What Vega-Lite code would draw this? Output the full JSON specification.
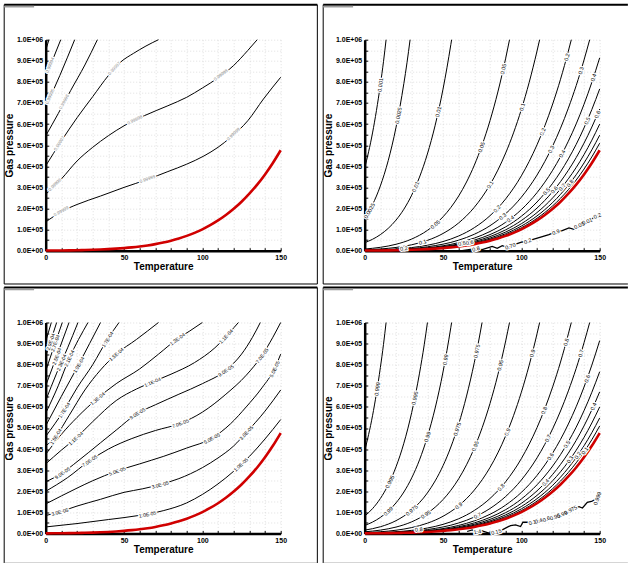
{
"$schema":"https://vega.github.io/schema/vega-lite/v6.json",
"background":"white",
"padding":{"left":2.7,"top":2.7,"right":0,"bottom":0},
"config":{
 "view":{"stroke":null},
 "font":"Liberation Sans",
 "axis":{"domainColor":"black","domainWidth":2.5,"tickColor":"black","tickWidth":1,"labelColor":"black","labelFont":"Liberation Sans","labelFontWeight":"bold","labelFontSize":7,"titleFont":"Liberation Sans","titleFontWeight":"bold","titleFontSize":10,"titleColor":"black","gridColor":"#d4d4d4","gridDash":[1,2],"gridWidth":0.7,"labelOverlap":false,"labelFlush":false,"grid":true,"tickSize":-3,"labelPadding":6},
 "axisX":{"tickCount":15,"titlePadding":1},
 "axisY":{"tickCount":20,"titlePadding":2}
},
"datasets":{
 "sat":[{"T":0,"P":611},{"T":5,"P":872},{"T":10,"P":1228},{"T":15,"P":1706},{"T":20,"P":2339},{"T":25,"P":3169},{"T":30,"P":4247},{"T":35,"P":5629},{"T":40,"P":7384},{"T":45,"P":9595},{"T":50,"P":12352},{"T":55,"P":15763},{"T":60,"P":19946},{"T":65,"P":25042},{"T":70,"P":31201},{"T":75,"P":38595},{"T":80,"P":47414},{"T":85,"P":57867},{"T":90,"P":70182},{"T":95,"P":84609},{"T":100,"P":101420},{"T":105,"P":120900},{"T":110,"P":143380},{"T":115,"P":169180},{"T":120,"P":198670},{"T":125,"P":232190},{"T":130,"P":270280},{"T":135,"P":313000},{"T":140,"P":361540},{"T":145,"P":415680},{"T":150,"P":476160}],
 "p1":[
  {"k":"a","T":0,"P":136000},{"k":"a","T":10,"P":185000},{"k":"a","T":20,"P":219000},{"k":"a","T":35,"P":259000},{"k":"a","T":50,"P":300000},{"k":"a","T":65,"P":338000},{"k":"a","T":78,"P":375000},{"k":"a","T":90,"P":410000},{"k":"a","T":101,"P":449000},{"k":"a","T":110,"P":490000},{"k":"a","T":118,"P":537000},{"k":"a","T":129,"P":616000},{"k":"a","T":139,"P":719000},{"k":"a","T":150,"P":822000},
  {"k":"b","T":0,"P":267000},{"k":"b","T":10,"P":340000},{"k":"b","T":20,"P":425000},{"k":"b","T":30,"P":490000},{"k":"b","T":40,"P":545000},{"k":"b","T":50,"P":592000},{"k":"b","T":63,"P":640000},{"k":"b","T":78,"P":687000},{"k":"b","T":90,"P":727000},{"k":"b","T":100,"P":771000},{"k":"b","T":110,"P":819000},{"k":"b","T":120,"P":878000},{"k":"b","T":129,"P":949000},{"k":"b","T":135,"P":1000000},
  {"k":"c","T":0,"P":402000},{"k":"c","T":10,"P":520000},{"k":"c","T":20,"P":630000},{"k":"c","T":30,"P":730000},{"k":"c","T":40,"P":830000},{"k":"c","T":48,"P":895000},{"k":"c","T":56,"P":935000},{"k":"c","T":64,"P":970000},{"k":"c","T":72,"P":1000000},
  {"k":"d","T":0,"P":544000},{"k":"d","T":8,"P":650000},{"k":"d","T":16,"P":760000},{"k":"d","T":25,"P":880000},{"k":"d","T":33,"P":1000000},
  {"k":"e","T":0,"P":680000},{"k":"e","T":9,"P":830000},{"k":"e","T":18.5,"P":1000000},
  {"k":"f","T":0,"P":822000},{"k":"f","T":9.6,"P":1000000},
  {"k":"g","T":0,"P":950000},{"k":"g","T":2.1,"P":1000000}
 ],
 "p3":[
  {"k":"c01","T":0,"P":31000},{"k":"c01","T":20,"P":47000},{"k":"c01","T":40,"P":66000},{"k":"c01","T":60,"P":86000},{"k":"c01","T":75,"P":108000},{"k":"c01","T":90,"P":145000},{"k":"c01","T":100,"P":185000},{"k":"c01","T":110,"P":235000},{"k":"c01","T":120,"P":295000},{"k":"c01","T":130,"P":365000},{"k":"c01","T":140,"P":448000},{"k":"c01","T":150,"P":540000},
  {"k":"c03","T":0,"P":85000},{"k":"c03","T":10,"P":105000},{"k":"c03","T":20,"P":130000},{"k":"c03","T":35,"P":162000},{"k":"c03","T":50,"P":195000},{"k":"c03","T":62,"P":212000},{"k":"c03","T":73,"P":232000},{"k":"c03","T":85,"P":260000},{"k":"c03","T":100,"P":312000},{"k":"c03","T":110,"P":358000},{"k":"c03","T":120,"P":415000},{"k":"c03","T":128,"P":478000},{"k":"c03","T":140,"P":580000},{"k":"c03","T":150,"P":680000},
  {"k":"c05","T":0,"P":140000},{"k":"c05","T":10,"P":178000},{"k":"c05","T":20,"P":215000},{"k":"c05","T":30,"P":250000},{"k":"c05","T":45,"P":295000},{"k":"c05","T":60,"P":330000},{"k":"c05","T":75,"P":365000},{"k":"c05","T":90,"P":405000},{"k":"c05","T":106,"P":451000},{"k":"c05","T":118,"P":520000},{"k":"c05","T":128,"P":600000},{"k":"c05","T":138,"P":690000},{"k":"c05","T":146,"P":780000},{"k":"c05","T":150,"P":850000},
  {"k":"c07","T":0,"P":200000},{"k":"c07","T":14,"P":265000},{"k":"c07","T":28,"P":345000},{"k":"c07","T":40,"P":400000},{"k":"c07","T":55,"P":450000},{"k":"c07","T":70,"P":488000},{"k":"c07","T":86,"P":522000},{"k":"c07","T":100,"P":575000},{"k":"c07","T":115,"P":660000},{"k":"c07","T":128,"P":750000},{"k":"c07","T":138,"P":843000},{"k":"c07","T":145,"P":930000},{"k":"c07","T":150,"P":1000000},
  {"k":"c09","T":0,"P":245000},{"k":"c09","T":10.6,"P":287000},{"k":"c09","T":20,"P":340000},{"k":"c09","T":35,"P":430000},{"k":"c09","T":45,"P":490000},{"k":"c09","T":58.5,"P":569000},{"k":"c09","T":70,"P":610000},{"k":"c09","T":85,"P":660000},{"k":"c09","T":100,"P":710000},{"k":"c09","T":114.9,"P":773000},{"k":"c09","T":125,"P":850000},{"k":"c09","T":132,"P":930000},{"k":"c09","T":137,"P":1000000},
  {"k":"c11","T":0,"P":330000},{"k":"c11","T":10,"P":395000},{"k":"c11","T":19.1,"P":451000},{"k":"c11","T":30,"P":530000},{"k":"c11","T":45,"P":630000},{"k":"c11","T":58,"P":685000},{"k":"c11","T":68.1,"P":718000},{"k":"c11","T":80,"P":755000},{"k":"c11","T":95,"P":810000},{"k":"c11","T":108,"P":880000},{"k":"c11","T":120.2,"P":976000},{"k":"c11","T":123,"P":1000000},
  {"k":"c13","T":0,"P":375000},{"k":"c13","T":10,"P":470000},{"k":"c13","T":20,"P":550000},{"k":"c13","T":33,"P":640000},{"k":"c13","T":45,"P":710000},{"k":"c13","T":60,"P":780000},{"k":"c13","T":72,"P":850000},{"k":"c13","T":84,"P":922000},{"k":"c13","T":92,"P":960000},{"k":"c13","T":100,"P":1000000},
  {"k":"c15","T":0,"P":415000},{"k":"c15","T":6.4,"P":460000},{"k":"c15","T":15,"P":560000},{"k":"c15","T":25,"P":680000},{"k":"c15","T":35,"P":775000},{"k":"c15","T":45,"P":850000},{"k":"c15","T":58,"P":920000},{"k":"c15","T":72,"P":1000000},
  {"k":"c17","T":0,"P":460000},{"k":"c17","T":11.7,"P":585000},{"k":"c17","T":20,"P":690000},{"k":"c17","T":30,"P":800000},{"k":"c17","T":39.4,"P":920000},{"k":"c17","T":46.8,"P":1000000},
  {"k":"c19","T":0,"P":510000},{"k":"c19","T":10,"P":650000},{"k":"c19","T":21,"P":800000},{"k":"c19","T":28,"P":900000},{"k":"c19","T":35,"P":1000000},
  {"k":"c21","T":0,"P":570000},{"k":"c21","T":8,"P":700000},{"k":"c21","T":15,"P":830000},{"k":"c21","T":21,"P":920000},{"k":"c21","T":27,"P":1000000},
  {"k":"c23","T":0,"P":630000},{"k":"c23","T":7,"P":760000},{"k":"c23","T":14,"P":880000},{"k":"c23","T":20.6,"P":1000000},
  {"k":"c25","T":0,"P":700000},{"k":"c25","T":7,"P":840000},{"k":"c25","T":14.9,"P":1000000},
  {"k":"c27","T":0,"P":770000},{"k":"c27","T":5,"P":880000},{"k":"c27","T":10.6,"P":1000000},
  {"k":"c29","T":0,"P":840000},{"k":"c29","T":7,"P":1000000},
  {"k":"c31","T":0,"P":910000},{"k":"c31","T":3.6,"P":1000000}
 ],
 "vap":[
  {"k":"r640","T":0,"P":391000},{"k":"r640","T":5,"P":558000},{"k":"r640","T":10,"P":786000},{"k":"r640","T":12,"P":896000},{"k":"r640","T":13.66,"P":1000000},
  {"k":"r250","T":0,"P":152750},{"k":"r250","T":5,"P":218000},{"k":"r250","T":10,"P":307000},{"k":"r250","T":15,"P":426500},{"k":"r250","T":20,"P":584750},{"k":"r250","T":25,"P":792250},{"k":"r250","T":27,"P":890700},{"k":"r250","T":28.98,"P":1000000},
  {"k":"r135","T":0,"P":82500},{"k":"r135","T":5,"P":117700},{"k":"r135","T":10,"P":165800},{"k":"r135","T":15,"P":230300},{"k":"r135","T":20,"P":315800},{"k":"r135","T":25,"P":427800},{"k":"r135","T":30,"P":573300},{"k":"r135","T":35,"P":759900},{"k":"r135","T":38,"P":894300},{"k":"r135","T":40.06,"P":1000000},
  {"k":"r62","T":0,"P":37880},{"k":"r62","T":5,"P":54060},{"k":"r62","T":10,"P":76140},{"k":"r62","T":15,"P":105770},{"k":"r62","T":20,"P":145020},{"k":"r62","T":25,"P":196480},{"k":"r62","T":30,"P":263310},{"k":"r62","T":35,"P":349000},{"k":"r62","T":40,"P":457810},{"k":"r62","T":45,"P":594890},{"k":"r62","T":50,"P":765820},{"k":"r62","T":55,"P":977310},{"k":"r62","T":55.49,"P":1000000},
  {"k":"r26","T":0,"P":15886},{"k":"r26","T":10,"P":31928},{"k":"r26","T":20,"P":60814},{"k":"r26","T":30,"P":110422},{"k":"r26","T":40,"P":191984},{"k":"r26","T":45,"P":249470},{"k":"r26","T":50,"P":321152},{"k":"r26","T":55,"P":409838},{"k":"r26","T":60,"P":518596},{"k":"r26","T":65,"P":651092},{"k":"r26","T":70,"P":811226},{"k":"r26","T":72.5,"P":902200},{"k":"r26","T":74.92,"P":1000000},
  {"k":"r13","T":0,"P":7943},{"k":"r13","T":10,"P":15964},{"k":"r13","T":20,"P":30407},{"k":"r13","T":30,"P":55211},{"k":"r13","T":40,"P":95992},{"k":"r13","T":45,"P":124735},{"k":"r13","T":50,"P":160576},{"k":"r13","T":55,"P":204919},{"k":"r13","T":60,"P":259298},{"k":"r13","T":65,"P":325546},{"k":"r13","T":70,"P":405613},{"k":"r13","T":75,"P":501735},{"k":"r13","T":80,"P":616382},{"k":"r13","T":85,"P":752271},{"k":"r13","T":90,"P":912366},{"k":"r13","T":92.45,"P":1000000},
  {"k":"r6.6","T":0,"P":4033},{"k":"r6.6","T":10,"P":8105},{"k":"r6.6","T":20,"P":15437},{"k":"r6.6","T":30,"P":28030},{"k":"r6.6","T":40,"P":48734},{"k":"r6.6","T":50,"P":81523},{"k":"r6.6","T":60,"P":131644},{"k":"r6.6","T":70,"P":205927},{"k":"r6.6","T":80,"P":312932},{"k":"r6.6","T":85,"P":381922},{"k":"r6.6","T":90,"P":463201},{"k":"r6.6","T":95,"P":558419},{"k":"r6.6","T":100,"P":669372},{"k":"r6.6","T":105,"P":797940},{"k":"r6.6","T":110,"P":946308},{"k":"r6.6","T":111.67,"P":1000000},
  {"k":"r3.5","T":0,"P":2139},{"k":"r3.5","T":20,"P":8187},{"k":"r3.5","T":30,"P":14865},{"k":"r3.5","T":40,"P":25844},{"k":"r3.5","T":50,"P":43232},{"k":"r3.5","T":60,"P":69811},{"k":"r3.5","T":70,"P":109204},{"k":"r3.5","T":80,"P":165949},{"k":"r3.5","T":90,"P":245637},{"k":"r3.5","T":100,"P":354970},{"k":"r3.5","T":110,"P":501830},{"k":"r3.5","T":115,"P":592130},{"k":"r3.5","T":120,"P":695345},{"k":"r3.5","T":125,"P":812665},{"k":"r3.5","T":130,"P":945980},{"k":"r3.5","T":131.89,"P":1000000},
  {"k":"r2.5","T":0,"P":1528},{"k":"r2.5","T":20,"P":5848},{"k":"r2.5","T":40,"P":18460},{"k":"r2.5","T":60,"P":49865},{"k":"r2.5","T":70,"P":78003},{"k":"r2.5","T":80,"P":118535},{"k":"r2.5","T":90,"P":175455},{"k":"r2.5","T":100,"P":253550},{"k":"r2.5","T":110,"P":358450},{"k":"r2.5","T":120,"P":496675},{"k":"r2.5","T":125,"P":580475},{"k":"r2.5","T":130,"P":675700},{"k":"r2.5","T":135,"P":782500},{"k":"r2.5","T":140,"P":903850},{"k":"r2.5","T":143.62,"P":1000000},
  {"k":"r1.92","T":0,"P":1173},{"k":"r1.92","T":40,"P":14177},{"k":"r1.92","T":60,"P":38296},{"k":"r1.92","T":70,"P":59906},{"k":"r1.92","T":80,"P":91035},{"k":"r1.92","T":90,"P":134749},{"k":"r1.92","T":100,"P":194726},{"k":"r1.92","T":110,"P":275290},{"k":"r1.92","T":120,"P":381446},{"k":"r1.92","T":125,"P":445805},{"k":"r1.92","T":130,"P":518938},{"k":"r1.92","T":135,"P":600960},{"k":"r1.92","T":140,"P":694157},{"k":"r1.92","T":145,"P":798106},{"k":"r1.92","T":150,"P":914227},
  {"k":"r1.61","T":0,"P":984},{"k":"r1.61","T":40,"P":11888},{"k":"r1.61","T":60,"P":32113},{"k":"r1.61","T":70,"P":50234},{"k":"r1.61","T":80,"P":76337},{"k":"r1.61","T":90,"P":112993},{"k":"r1.61","T":100,"P":163286},{"k":"r1.61","T":110,"P":230842},{"k":"r1.61","T":120,"P":319859},{"k":"r1.61","T":125,"P":373826},{"k":"r1.61","T":130,"P":435151},{"k":"r1.61","T":135,"P":503930},{"k":"r1.61","T":140,"P":582079},{"k":"r1.61","T":145,"P":669245},{"k":"r1.61","T":150,"P":766618},
  {"k":"r1.41","T":0,"P":862},{"k":"r1.41","T":40,"P":10411},{"k":"r1.41","T":60,"P":28124},{"k":"r1.41","T":70,"P":43993},{"k":"r1.41","T":80,"P":66854},{"k":"r1.41","T":90,"P":98957},{"k":"r1.41","T":100,"P":143002},{"k":"r1.41","T":110,"P":202166},{"k":"r1.41","T":120,"P":280125},{"k":"r1.41","T":125,"P":327388},{"k":"r1.41","T":130,"P":381095},{"k":"r1.41","T":135,"P":441330},{"k":"r1.41","T":140,"P":509771},{"k":"r1.41","T":145,"P":586109},{"k":"r1.41","T":150,"P":671386},
  {"k":"r1.26","T":0,"P":770},{"k":"r1.26","T":40,"P":9304},{"k":"r1.26","T":60,"P":25132},{"k":"r1.26","T":70,"P":39313},{"k":"r1.26","T":80,"P":59742},{"k":"r1.26","T":90,"P":88429},{"k":"r1.26","T":100,"P":127789},{"k":"r1.26","T":110,"P":180659},{"k":"r1.26","T":120,"P":250324},{"k":"r1.26","T":125,"P":292559},{"k":"r1.26","T":130,"P":340553},{"k":"r1.26","T":135,"P":394380},{"k":"r1.26","T":140,"P":455540},{"k":"r1.26","T":145,"P":523757},{"k":"r1.26","T":150,"P":599962},
  {"k":"r1.15","T":0,"P":703},{"k":"r1.15","T":40,"P":8492},{"k":"r1.15","T":60,"P":22938},{"k":"r1.15","T":70,"P":35881},{"k":"r1.15","T":80,"P":54526},{"k":"r1.15","T":90,"P":80709},{"k":"r1.15","T":100,"P":116633},{"k":"r1.15","T":110,"P":164887},{"k":"r1.15","T":120,"P":228471},{"k":"r1.15","T":125,"P":267019},{"k":"r1.15","T":130,"P":310822},{"k":"r1.15","T":135,"P":359950},{"k":"r1.15","T":140,"P":415771},{"k":"r1.15","T":145,"P":478032},{"k":"r1.15","T":150,"P":547584},
  {"k":"r1.07","T":0,"P":654},{"k":"r1.07","T":40,"P":7901},{"k":"r1.07","T":60,"P":21342},{"k":"r1.07","T":70,"P":33385},{"k":"r1.07","T":80,"P":50733},{"k":"r1.07","T":90,"P":75095},{"k":"r1.07","T":100,"P":108519},{"k":"r1.07","T":110,"P":153417},{"k":"r1.07","T":120,"P":212577},{"k":"r1.07","T":125,"P":248443},{"k":"r1.07","T":130,"P":289200},{"k":"r1.07","T":135,"P":334910},{"k":"r1.07","T":140,"P":386848},{"k":"r1.07","T":145,"P":444778},{"k":"r1.07","T":150,"P":509491}
 ],
 "j2":[{"T":62.2,"P":0},{"T":70.7,"P":9500},{"T":75,"P":4750},{"T":81.4,"P":20600},{"T":84.6,"P":11100},{"T":87.8,"P":23800},{"T":91,"P":15800},{"T":96.3,"P":31700},{"T":100.6,"P":41200},{"T":104.8,"P":47500},{"T":109.1,"P":57100},{"T":113.4,"P":66600},{"T":117.6,"P":76100},{"T":121.9,"P":88700},{"T":126.1,"P":95100},{"T":130.4,"P":107800},{"T":133.6,"P":101400},{"T":136.8,"P":120400},{"T":141.1,"P":136300},{"T":145.3,"P":152100},{"T":149.6,"P":171200}],
 "j4":[{"T":65.4,"P":9400},{"T":68.6,"P":17200},{"T":70.7,"P":6300},{"T":75,"P":12500},{"T":79.3,"P":1600},{"T":83.5,"P":6300},{"T":87.8,"P":17200},{"T":93.1,"P":37600},{"T":96.3,"P":40800},{"T":99.5,"P":32900},{"T":101,"P":53300},{"T":107,"P":53300},{"T":113.4,"P":64300},{"T":119.8,"P":75200},{"T":126.1,"P":90900},{"T":131.5,"P":111300},{"T":136.8,"P":127000},{"T":139,"P":120700},{"T":142.1,"P":147300},{"T":145.3,"P":153600},{"T":148.5,"P":166100}],
 "lab1":[
  {"T":10,"P":185000,"t":"0.99999","a":-29},{"T":65,"P":338000,"t":"0.99999","a":-19},{"T":120,"P":551000,"t":"0.99999","a":-44},
  {"T":6,"P":311000,"t":"0.99998","a":-44},{"T":57,"P":618000,"t":"0.99998","a":-26},{"T":112,"P":831000,"t":"0.99998","a":-37},
  {"T":9,"P":508000,"t":"0.99997","a":-58},{"T":44,"P":863000,"t":"0.99997","a":-47},
  {"T":12,"P":705000,"t":"0.99996","a":-62},{"T":3,"P":730000,"t":"0.99995","a":-66},{"T":3,"P":878000,"t":"0.99994","a":-68}
 ],
 "lab2":[
  {"T":10,"P":786000,"t":"0.001","a":-82},{"T":3,"P":189100,"t":"0.0025","a":-61},{"T":21.5,"P":640800,"t":"0.0025","a":-79},
  {"T":32.5,"P":303400,"t":"0.01","a":-67},{"T":47,"P":657900,"t":"0.01","a":-77},
  {"T":45,"P":124735,"t":"0.05","a":-41},{"T":74.5,"P":490800,"t":"0.05","a":-70},{"T":88.5,"P":860700,"t":"0.05","a":-77},
  {"T":37,"P":41300,"t":"0.1","a":-17},{"T":80,"P":312932,"t":"0.1","a":-60},{"T":100.5,"P":681200,"t":"0.1","a":-73},
  {"T":25,"P":11092,"t":"0.2","a":-5},{"T":84.5,"P":198660,"t":"0.2","a":-46},{"T":113.5,"P":563600,"t":"0.2","a":-68},{"T":129,"P":917400,"t":"0.2","a":-75},
  {"T":88,"P":162300,"t":"0.3","a":-40},{"T":119,"P":480800,"t":"0.3","a":-65},{"T":138,"P":853700,"t":"0.3","a":-73},
  {"T":93,"P":150800,"t":"0.4","a":-37},{"T":126,"P":459700,"t":"0.4","a":-62},{"T":146,"P":820400,"t":"0.4","a":-72},
  {"T":116,"P":281400,"t":"0.5","a":-51},{"T":142,"P":615500,"t":"0.5","a":-67},{"T":62,"P":35100,"t":"0.5","a":-10},
  {"T":121,"P":288900,"t":"0.6","a":-50},{"T":148.5,"P":645400,"t":"0.6","a":-67},{"T":67,"P":38600,"t":"0.6","a":-11},
  {"T":126,"P":301700,"t":"0.7","a":-52},{"T":131,"P":320100,"t":"0.8","a":-53},
  {"T":71,"P":9000,"t":"0.8","a":-15},{"T":93,"P":22000,"t":"0.70","a":-20},{"T":104,"P":46000,"t":"0.2","a":-20},{"T":122,"P":88700,"t":"0.9","a":-20},{"T":137,"P":120400,"t":"0.05","a":-22},{"T":142,"P":139600,"t":"0.01","a":-22},{"T":148.5,"P":166000,"t":"0.2","a":-22}
 ],
 "lab3":[
  {"T":65,"P":92000,"t":"1.0E-05","a":-11},{"T":124.5,"P":327000,"t":"1.0E-05","a":-43},
  {"T":9,"P":103000,"t":"3.0E-05","a":-15},{"T":73,"P":232000,"t":"3.0E-05","a":-15},{"T":128,"P":478000,"t":"3.0E-05","a":-47},
  {"T":45.7,"P":296700,"t":"5.0E-05","a":-20},{"T":106,"P":451000,"t":"5.0E-05","a":-28},{"T":146,"P":780000,"t":"5.0E-05","a":-64},
  {"T":28,"P":345000,"t":"7.0E-05","a":-34},{"T":86,"P":522000,"t":"7.0E-05","a":-21},{"T":138,"P":843000,"t":"7.0E-05","a":-53},
  {"T":10.6,"P":287000,"t":"9.0E-05","a":-34},{"T":58.5,"P":569000,"t":"9.0E-05","a":-31},{"T":115,"P":773000,"t":"9.0E-05","a":-34},
  {"T":19.1,"P":451000,"t":"1.1E-04","a":-42},{"T":68.1,"P":718000,"t":"1.1E-04","a":-23},{"T":115,"P":935000,"t":"1.1E-04","a":-47},
  {"T":33,"P":640000,"t":"1.3E-04","a":-40},{"T":84,"P":922000,"t":"1.3E-04","a":-36},
  {"T":6.4,"P":460000,"t":"1.5E-04","a":-58},{"T":45,"P":850000,"t":"1.5E-04","a":-41},
  {"T":11.7,"P":585000,"t":"1.7E-04","a":-57},{"T":39.4,"P":920000,"t":"1.7E-04","a":-58},
  {"T":21,"P":800000,"t":"1.9E-04","a":-60},{"T":15,"P":830000,"t":"2.1E-04","a":-65},{"T":10,"P":811000,"t":"2.3E-04","a":-66},
  {"T":7,"P":840000,"t":"2.5E-04","a":-70},{"T":6,"P":902000,"t":"2.7E-04","a":-70},{"T":3,"P":909000,"t":"2.9E-04","a":-72}
 ],
 "lab4":[
  {"T":8,"P":685400,"t":"0.999","a":-81},
  {"T":16,"P":245300,"t":"0.995","a":-64},{"T":32,"P":642000,"t":"0.995","a":-78},
  {"T":15,"P":105770,"t":"0.99","a":-43},{"T":40,"P":457810,"t":"0.99","a":-73},{"T":51.5,"P":824200,"t":"0.99","a":-80},
  {"T":30,"P":110422,"t":"0.975","a":-40},{"T":59,"P":494700,"t":"0.975","a":-72},{"T":71.5,"P":864600,"t":"0.975","a":-79},
  {"T":39,"P":90900,"t":"0.95","a":-34},{"T":70.5,"P":414300,"t":"0.95","a":-67},{"T":86.5,"P":797000,"t":"0.95","a":-76},
  {"T":60,"P":131644,"t":"0.9","a":-39},{"T":91,"P":480900,"t":"0.9","a":-68},{"T":107,"P":854400,"t":"0.9","a":-76},
  {"T":87,"P":218800,"t":"0.8","a":-49},{"T":114.5,"P":583100,"t":"0.8","a":-69},{"T":128.5,"P":907100,"t":"0.8","a":-75},{"T":34.5,"P":19200,"t":"0.8","a":-5},
  {"T":117,"P":451400,"t":"0.7","a":-63},{"T":138,"P":853700,"t":"0.7","a":-73},{"T":72,"P":84900,"t":"0.7","a":-26},
  {"T":118.5,"P":364600,"t":"0.6","a":-58},{"T":142,"P":734000,"t":"0.6","a":-70},
  {"T":129,"P":422700,"t":"0.5","a":-60},
  {"T":115.5,"P":242500,"t":"0.4","a":-47},{"T":146,"P":602400,"t":"0.4","a":-66},
  {"T":131,"P":350700,"t":"0.3","a":-56},{"T":136,"P":370500,"t":"0.2","a":-57},{"T":140.5,"P":392300,"t":"0.1","a":-56},
  {"T":72,"P":8500,"t":"1.4","a":-10},{"T":84,"P":8000,"t":"0.15","a":-15},{"T":107,"P":53300,"t":"0.1","a":-15},{"T":111,"P":60200,"t":"0.4","a":-18},{"T":116,"P":68700,"t":"0.6","a":-20},{"T":121.5,"P":79400,"t":"0.95","a":-22},{"T":126,"P":90700,"t":"0.99","a":-25},{"T":131.5,"P":111300,"t":"0.975","a":-28},{"T":148.5,"P":166100,"t":"0.999","a":-72}
 ],
 "one":[{}]
},
"columns":2,
"align":"each",
"spacing":{"row":0.8,"column":3},
"concat":[
 {"width":235,"height":211,"layer":[
  {"data":{"name":"p1"},"mark":{"type":"line","interpolate":"monotone","stroke":"black","strokeWidth":1},"encoding":{
   "x":{"field":"T","type":"quantitative","scale":{"domain":[0,150],"nice":false,"zero":false},"axis":{"title":"Temperature","labelExpr":"datum.value % 50 == 0 ? datum.label : ''"}},
   "y":{"field":"P","type":"quantitative","scale":{"domain":[0,1000000],"nice":false,"zero":false},"axis":{"title":"Gas pressure","labelExpr":"datum.value % 100000 != 0 ? '' : (datum.value == 0 ? '0.0E+00' : (datum.value >= 1000000 ? '1.0E+06' : format(datum.value / 100000, '.1f') + 'E+05'))"}},
   "detail":{"field":"k","type":"nominal"}}},
  {"data":{"name":"one"},"mark":{"type":"rule","stroke":"black","strokeWidth":2},"encoding":{"x":{"datum":-26.49,"type":"quantitative"},"x2":{"datum":173.4},"y":{"datum":1165900,"type":"quantitative"}}},
  {"data":{"name":"one"},"mark":{"type":"rule","stroke":"black","strokeWidth":1},"encoding":{"x":{"datum":-26.49,"type":"quantitative"},"y":{"datum":1165900,"type":"quantitative"},"y2":{"datum":-157800}}},
  {"data":{"name":"one"},"mark":{"type":"rule","stroke":"black","strokeWidth":1},"encoding":{"x":{"datum":173.4,"type":"quantitative"},"y":{"datum":1165900,"type":"quantitative"},"y2":{"datum":-157800}}},
  {"data":{"name":"one"},"mark":{"type":"rule","stroke":"black","strokeWidth":1},"encoding":{"x":{"datum":-26.49,"type":"quantitative"},"x2":{"datum":173.4},"y":{"datum":-157800,"type":"quantitative"}}},
  {"data":{"name":"one"},"mark":{"type":"rect","fill":"#9c9c9c"},"encoding":{"x":{"datum":-26.49,"type":"quantitative"},"x2":{"datum":-7.4},"y":{"datum":1160700,"type":"quantitative"},"y2":{"datum":1152700}}},
  {"data":{"name":"sat"},"mark":{"type":"line","interpolate":"monotone","stroke":"#d00000","strokeWidth":2.6},"encoding":{"x":{"field":"T","type":"quantitative"},"y":{"field":"P","type":"quantitative"}}},
  {"data":{"name":"lab1"},"mark":{"type":"text","font":"Liberation Sans","fontSize":4.5,"fill":"white","stroke":"white","strokeWidth":2.5,"strokeJoin":"round","align":"center","baseline":"middle"},"encoding":{"x":{"field":"T","type":"quantitative"},"y":{"field":"P","type":"quantitative"},"text":{"field":"t"},"angle":{"field":"a","type":"quantitative","scale":null}}},
  {"data":{"name":"lab1"},"mark":{"type":"text","font":"Liberation Sans","fontSize":4.5,"fill":"#8a8a8a","align":"center","baseline":"middle"},"encoding":{"x":{"field":"T","type":"quantitative"},"y":{"field":"P","type":"quantitative"},"text":{"field":"t"},"angle":{"field":"a","type":"quantitative","scale":null}}}
 ]},
 {"width":235,"height":211,"layer":[
  {"data":{"name":"vap"},"transform":[{"filter":{"field":"k","oneOf":["r640","r250","r62","r13","r6.6","r3.5","r2.5","r1.92","r1.61","r1.41","r1.26","r1.15","r1.07"]}}],"mark":{"type":"line","interpolate":"monotone","stroke":"black","strokeWidth":1},"encoding":{
   "x":{"field":"T","type":"quantitative","scale":{"domain":[0,150],"nice":false,"zero":false},"axis":{"title":"Temperature","labelExpr":"datum.value % 50 == 0 ? datum.label : ''"}},
   "y":{"field":"P","type":"quantitative","scale":{"domain":[0,1000000],"nice":false,"zero":false},"axis":{"title":"Gas pressure","labelExpr":"datum.value % 100000 != 0 ? '' : (datum.value == 0 ? '0.0E+00' : (datum.value >= 1000000 ? '1.0E+06' : format(datum.value / 100000, '.1f') + 'E+05'))"}},
   "detail":{"field":"k","type":"nominal"}}},
  {"data":{"name":"one"},"mark":{"type":"rule","stroke":"black","strokeWidth":2},"encoding":{"x":{"datum":-26.49,"type":"quantitative"},"x2":{"datum":168},"y":{"datum":1165900,"type":"quantitative"}}},
  {"data":{"name":"one"},"mark":{"type":"rule","stroke":"black","strokeWidth":1},"encoding":{"x":{"datum":-26.49,"type":"quantitative"},"y":{"datum":1165900,"type":"quantitative"},"y2":{"datum":-157800}}},
  {"data":{"name":"one"},"mark":{"type":"rule","stroke":"black","strokeWidth":1},"encoding":{"x":{"datum":-26.49,"type":"quantitative"},"x2":{"datum":168},"y":{"datum":-157800,"type":"quantitative"}}},
  {"data":{"name":"one"},"mark":{"type":"rect","fill":"#9c9c9c"},"encoding":{"x":{"datum":-26.49,"type":"quantitative"},"x2":{"datum":-7.4},"y":{"datum":1160700,"type":"quantitative"},"y2":{"datum":1152700}}},
  {"data":{"name":"j2"},"mark":{"type":"line","stroke":"black","strokeWidth":1.3},"encoding":{"x":{"field":"T","type":"quantitative"},"y":{"field":"P","type":"quantitative"}}},
  {"data":{"name":"sat"},"mark":{"type":"line","interpolate":"monotone","stroke":"#d00000","strokeWidth":2.6},"encoding":{"x":{"field":"T","type":"quantitative"},"y":{"field":"P","type":"quantitative"}}},
  {"data":{"name":"lab2"},"mark":{"type":"text","font":"Liberation Sans","fontSize":5.5,"fill":"white","stroke":"white","strokeWidth":2.5,"strokeJoin":"round","align":"center","baseline":"middle"},"encoding":{"x":{"field":"T","type":"quantitative"},"y":{"field":"P","type":"quantitative"},"text":{"field":"t"},"angle":{"field":"a","type":"quantitative","scale":null}}},
  {"data":{"name":"lab2"},"mark":{"type":"text","font":"Liberation Sans","fontSize":5.5,"fill":"black","align":"center","baseline":"middle"},"encoding":{"x":{"field":"T","type":"quantitative"},"y":{"field":"P","type":"quantitative"},"text":{"field":"t"},"angle":{"field":"a","type":"quantitative","scale":null}}}
 ]},
 {"width":235,"height":211,"layer":[
  {"data":{"name":"p3"},"mark":{"type":"line","interpolate":"monotone","stroke":"black","strokeWidth":1},"encoding":{
   "x":{"field":"T","type":"quantitative","scale":{"domain":[0,150],"nice":false,"zero":false},"axis":{"title":"Temperature","labelExpr":"datum.value % 50 == 0 ? datum.label : ''"}},
   "y":{"field":"P","type":"quantitative","scale":{"domain":[0,1000000],"nice":false,"zero":false},"axis":{"title":"Gas pressure","labelExpr":"datum.value % 100000 != 0 ? '' : (datum.value == 0 ? '0.0E+00' : (datum.value >= 1000000 ? '1.0E+06' : format(datum.value / 100000, '.1f') + 'E+05'))"}},
   "detail":{"field":"k","type":"nominal"}}},
  {"data":{"name":"one"},"mark":{"type":"rule","stroke":"black","strokeWidth":2},"encoding":{"x":{"datum":-26.49,"type":"quantitative"},"x2":{"datum":173.4},"y":{"datum":1165900,"type":"quantitative"}}},
  {"data":{"name":"one"},"mark":{"type":"rule","stroke":"black","strokeWidth":1},"encoding":{"x":{"datum":-26.49,"type":"quantitative"},"y":{"datum":1165900,"type":"quantitative"},"y2":{"datum":-140700}}},
  {"data":{"name":"one"},"mark":{"type":"rule","stroke":"black","strokeWidth":1},"encoding":{"x":{"datum":173.4,"type":"quantitative"},"y":{"datum":1165900,"type":"quantitative"},"y2":{"datum":-140700}}},
  {"data":{"name":"one"},"mark":{"type":"rule","stroke":"#808080","strokeWidth":1},"encoding":{"x":{"datum":-26.49,"type":"quantitative"},"x2":{"datum":173.4},"y":{"datum":-140700,"type":"quantitative"}}},
  {"data":{"name":"one"},"mark":{"type":"rect","fill":"#9c9c9c"},"encoding":{"x":{"datum":-26.49,"type":"quantitative"},"x2":{"datum":-7.4},"y":{"datum":1160700,"type":"quantitative"},"y2":{"datum":1152700}}},
  {"data":{"name":"sat"},"mark":{"type":"line","interpolate":"monotone","stroke":"#d00000","strokeWidth":2.6},"encoding":{"x":{"field":"T","type":"quantitative"},"y":{"field":"P","type":"quantitative"}}},
  {"data":{"name":"lab3"},"mark":{"type":"text","font":"Liberation Sans","fontSize":5,"fill":"white","stroke":"white","strokeWidth":2.5,"strokeJoin":"round","align":"center","baseline":"middle"},"encoding":{"x":{"field":"T","type":"quantitative"},"y":{"field":"P","type":"quantitative"},"text":{"field":"t"},"angle":{"field":"a","type":"quantitative","scale":null}}},
  {"data":{"name":"lab3"},"mark":{"type":"text","font":"Liberation Sans","fontSize":5,"fill":"black","align":"center","baseline":"middle"},"encoding":{"x":{"field":"T","type":"quantitative"},"y":{"field":"P","type":"quantitative"},"text":{"field":"t"},"angle":{"field":"a","type":"quantitative","scale":null}}}
 ]},
 {"width":235,"height":211,"layer":[
  {"data":{"name":"vap"},"transform":[{"filter":{"field":"k","oneOf":["r640","r135","r62","r26","r13","r6.6","r3.5","r2.5","r1.92","r1.61","r1.41","r1.26","r1.15","r1.07"]}}],"mark":{"type":"line","interpolate":"monotone","stroke":"black","strokeWidth":1},"encoding":{
   "x":{"field":"T","type":"quantitative","scale":{"domain":[0,150],"nice":false,"zero":false},"axis":{"title":"Temperature","labelExpr":"datum.value % 50 == 0 ? datum.label : ''"}},
   "y":{"field":"P","type":"quantitative","scale":{"domain":[0,1000000],"nice":false,"zero":false},"axis":{"title":"Gas pressure","labelExpr":"datum.value % 100000 != 0 ? '' : (datum.value == 0 ? '0.0E+00' : (datum.value >= 1000000 ? '1.0E+06' : format(datum.value / 100000, '.1f') + 'E+05'))"}},
   "detail":{"field":"k","type":"nominal"}}},
  {"data":{"name":"one"},"mark":{"type":"rule","stroke":"black","strokeWidth":2},"encoding":{"x":{"datum":-26.49,"type":"quantitative"},"x2":{"datum":168},"y":{"datum":1165900,"type":"quantitative"}}},
  {"data":{"name":"one"},"mark":{"type":"rule","stroke":"black","strokeWidth":1},"encoding":{"x":{"datum":-26.49,"type":"quantitative"},"y":{"datum":1165900,"type":"quantitative"},"y2":{"datum":-140700}}},
  {"data":{"name":"one"},"mark":{"type":"rule","stroke":"#808080","strokeWidth":1},"encoding":{"x":{"datum":-26.49,"type":"quantitative"},"x2":{"datum":168},"y":{"datum":-140700,"type":"quantitative"}}},
  {"data":{"name":"one"},"mark":{"type":"rect","fill":"#9c9c9c"},"encoding":{"x":{"datum":-26.49,"type":"quantitative"},"x2":{"datum":-7.4},"y":{"datum":1160700,"type":"quantitative"},"y2":{"datum":1152700}}},
  {"data":{"name":"j4"},"mark":{"type":"line","stroke":"black","strokeWidth":1.3},"encoding":{"x":{"field":"T","type":"quantitative"},"y":{"field":"P","type":"quantitative"}}},
  {"data":{"name":"sat"},"mark":{"type":"line","interpolate":"monotone","stroke":"#d00000","strokeWidth":2.6},"encoding":{"x":{"field":"T","type":"quantitative"},"y":{"field":"P","type":"quantitative"}}},
  {"data":{"name":"lab4"},"mark":{"type":"text","font":"Liberation Sans","fontSize":5.5,"fill":"white","stroke":"white","strokeWidth":2.5,"strokeJoin":"round","align":"center","baseline":"middle"},"encoding":{"x":{"field":"T","type":"quantitative"},"y":{"field":"P","type":"quantitative"},"text":{"field":"t"},"angle":{"field":"a","type":"quantitative","scale":null}}},
  {"data":{"name":"lab4"},"mark":{"type":"text","font":"Liberation Sans","fontSize":5.5,"fill":"black","align":"center","baseline":"middle"},"encoding":{"x":{"field":"T","type":"quantitative"},"y":{"field":"P","type":"quantitative"},"text":{"field":"t"},"angle":{"field":"a","type":"quantitative","scale":null}}}
 ]}
]
}
